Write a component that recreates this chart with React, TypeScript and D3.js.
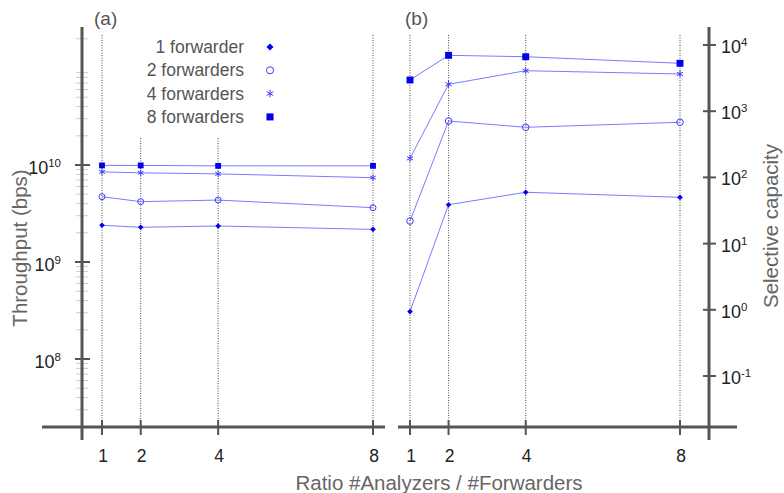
import React from "react";
import * as d3 from "d3";

const ratios = [1, 2, 4, 8];
const seriesNames = ["1 forwarder", "2 forwarders", "4 forwarders", "8 forwarders"];

// panel (a): throughput in bps
const throughput1 = [2.39e9, 2.28e9, 2.35e9, 2.17e9];
const throughput2 = [4.71e9, 4.19e9, 4.35e9, 3.63e9];
const throughput4 = [8.5e9, 8.3e9, 8.1e9, 7.4e9];
const throughput8 = [9.9e9, 9.9e9, 9.8e9, 9.8e9];

// panel (b): selective capacity
const capacity1 = [0.94, 38.7, 59.6, 50];
const capacity2 = [21.9, 711, 571, 680];
const capacity4 = [194, 2550, 4090, 3650];
const capacity8 = [2960, 6980, 6650, 5290];

const leftTicks = [1e8, 1e9, 1e10];
const rightTicks = [1e-1, 1e0, 1e1, 1e2, 1e3, 1e4];

const W = 784;
const H = 493;
const AXIS = "#555";
const LINE = "#7a7aff";
const MARK = "#0000ee";
const FONT = "'Liberation Sans', Arial, sans-serif";

const diamond = (d3 as any).symbolDiamond2 || d3.symbolDiamond;
const symbols = [diamond, d3.symbolCircle, d3.symbolAsterisk, d3.symbolSquare];

const Marker = ({ i, x, y, size }: { i: number; x: number; y: number; size: number }) => {
  const path = d3.symbol().type(symbols[i]).size(size)() as string;
  const open = i === 1 || i === 2;
  return (
    <path
      d={path}
      transform={`translate(${x},${y})`}
      fill={open ? "none" : MARK}
      stroke={open ? "#3a3aff" : "none"}
      strokeWidth={1}
    />
  );
};

const Pow = ({ x, y, exp, anchor }: { x: number; y: number; exp: string; anchor: string }) => (
  <text x={x} y={y} fontSize={18} fill="#222" textAnchor={anchor} fontFamily={FONT}>
    10<tspan dy={-7} fontSize={11.5}>{exp}</tspan>
  </text>
);

const Series = ({ data, i, x, y, size }: any) => {
  const line = d3
    .line<number>()
    .x((_, k) => x(ratios[k]))
    .y((d) => y(d));
  return (
    <g>
      <path d={line(data) as string} fill="none" stroke={LINE} strokeWidth={1} />
      {data.map((d: number, k: number) => (
        <Marker key={k} i={i} x={x(ratios[k])} y={y(d)} size={size} />
      ))}
    </g>
  );
};

export default function App() {
  const xa = d3.scaleLinear().domain([1, 8]).range([102, 373]);
  const xb = d3.scaleLinear().domain([1, 8]).range([410, 680]);
  const yl = d3.scaleLog().domain([1e8, 1e10]).range([359, 165]);
  const yr = d3.scaleLog().domain([1e-1, 1e4]).range([376, 45]);

  const baseY = 427;
  const tp = [throughput1, throughput2, throughput4, throughput8];
  const cap = [capacity1, capacity2, capacity4, capacity8];
  const sizesA = [20, 28, 30, 34];
  const sizesB = [20, 34, 34, 48];

  const minor: number[] = [];
  for (let e = 7; e <= 11; e++) {
    for (let m = 2; m <= 9; m++) {
      const v = m * Math.pow(10, e);
      const py = yl(v);
      if (py > 30 && py < baseY - 5) minor.push(py);
    }
  }

  return (
    <svg width={W} height={H} style={{ position: "absolute", left: 0, top: 0, background: "#fff" }}>
      {/* panel labels */}
      <text x={94} y={25} fontSize={19} fill="#555" fontFamily={FONT}>(a)</text>
      <text x={405} y={25} fontSize={19} fill="#555" fontFamily={FONT}>(b)</text>

      {/* dotted guides */}
      {ratios.map((r, k) => (
        <line key={"ga" + k} x1={xa(r)} x2={xa(r)} y1={r === 2 || r === 4 ? 138 : 35} y2={baseY}
          stroke="#222" strokeWidth={0.8} strokeDasharray="1,1.5" />
      ))}
      {ratios.map((r, k) => (
        <line key={"gb" + k} x1={xb(r)} x2={xb(r)} y1={35} y2={baseY}
          stroke="#222" strokeWidth={0.8} strokeDasharray="1,1.5" />
      ))}

      {/* left axis */}
      {minor.map((py, k) => (
        <line key={"m" + k} x1={76} x2={88} y1={py} y2={py} stroke="#ccc" strokeWidth={1} />
      ))}
      <line x1={82} x2={82} y1={27} y2={440} stroke={AXIS} strokeWidth={3} />
      {leftTicks.map((t, k) => (
        <g key={"lt" + k}>
          <line x1={75} x2={90} y1={yl(t)} y2={yl(t)} stroke={AXIS} strokeWidth={2} />
          <Pow x={61} y={yl(t) + 9} exp={String(Math.round(Math.log10(t)))} anchor="end" />
        </g>
      ))}

      {/* right axis */}
      <line x1={709} x2={709} y1={27} y2={440} stroke={AXIS} strokeWidth={3} />
      {rightTicks.map((t, k) => (
        <g key={"rt" + k}>
          <line x1={703} x2={716} y1={yr(t)} y2={yr(t)} stroke={AXIS} strokeWidth={2} />
          <Pow x={721} y={yr(t) + 8} exp={String(Math.round(Math.log10(t)))} anchor="start" />
        </g>
      ))}

      {/* bottom axes */}
      <line x1={42} x2={385} y1={baseY} y2={baseY} stroke={AXIS} strokeWidth={3} />
      <line x1={398} x2={737} y1={baseY} y2={baseY} stroke={AXIS} strokeWidth={3} />
      {ratios.map((r, k) => (
        <g key={"bt" + k}>
          <line x1={xa(r)} x2={xa(r)} y1={420} y2={435} stroke={AXIS} strokeWidth={2} />
          <text x={xa(r) + 1} y={462} fontSize={17.5} textAnchor="middle" fill="#222" fontFamily={FONT}>{r}</text>
          <line x1={xb(r)} x2={xb(r)} y1={420} y2={435} stroke={AXIS} strokeWidth={2} />
          <text x={xb(r) + 1} y={462} fontSize={17.5} textAnchor="middle" fill="#222" fontFamily={FONT}>{r}</text>
        </g>
      ))}

      {/* axis titles */}
      <text transform="translate(27,248) rotate(-90)" fontSize={20.5} textAnchor="middle" fill="#666" fontFamily={FONT}>
        Throughput (bps)
      </text>
      <text transform="translate(778,226) rotate(-90)" fontSize={20.5} textAnchor="middle" fill="#666" fontFamily={FONT}>
        Selective capacity
      </text>
      <text x={439} y={490} fontSize={20.5} textAnchor="middle" fill="#666" fontFamily={FONT}>
        Ratio #Analyzers / #Forwarders
      </text>

      {/* series */}
      {tp.map((d, i) => (
        <Series key={"a" + i} data={d} i={i} x={xa} y={yl} size={sizesA[i]} />
      ))}
      {cap.map((d, i) => (
        <Series key={"b" + i} data={d} i={i} x={xb} y={yr} size={sizesB[i]} />
      ))}

      {/* legend */}
      {seriesNames.map((n, i) => (
        <g key={"lg" + i}>
          <text x={244} y={53 + i * 23.3} fontSize={17.5} textAnchor="end" fill="#555" fontFamily={FONT}>{n}</text>
          <Marker i={i} x={270} y={47 + i * 23.3} size={[32, 40, 40, 50][i]} />
        </g>
      ))}
    </svg>
  );
}
